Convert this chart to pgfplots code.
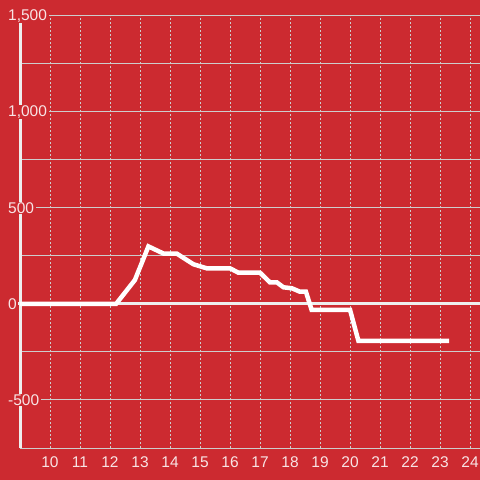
\documentclass[border=0pt]{standalone}
\usepackage{pgfplots}
\pgfplotsset{compat=1.18}
\usepackage{fontspec}
\setmainfont{Liberation Sans}
\definecolor{bgred}{RGB}{204,42,48}
\definecolor{gridc}{RGB}{205,205,205}
\definecolor{labc}{RGB}{248,228,229}
\definecolor{zeroc}{RGB}{238,238,238}
\begin{document}
\begin{tikzpicture}
\fill[bgred] (0,0) rectangle (480bp,480bp);
\begin{axis}[
  at={(20bp,32bp)}, anchor=south west,
  scale only axis, width=460bp, height=432bp,
  xmin=9, xmax=24.333, ymin=-750, ymax=1500,
  axis x line*=bottom, axis y line*=left,
  x axis line style={gridc, line width=1bp},
  y axis line style={zeroc, line width=3bp},
  xtick={10,...,24},
  ytick={-500,0,500,1000,1500},
  yticklabels={-500,0,500,{1,000},{1,500}},
  minor ytick={-250,250,750,1250},
  major tick length=0pt, minor tick length=0pt,
  xmajorgrids, ymajorgrids, yminorgrids,
  x grid style={gridc, line width=1bp, dash pattern=on 2bp off 2bp},
  y grid style={gridc, line width=1bp},
  minor y grid style={gridc, line width=1bp},
  tick label style={font=\fontsize{15.5bp}{15.5bp}\selectfont, text=labc},
  yticklabel style={anchor=west, xshift=-14bp, fill=bgred, inner xsep=2bp, inner ysep=1bp},
  xticklabel style={anchor=north, yshift=-5bp},
  /pgf/number format/assume math mode=true,
  clip=false,
]
\addplot[zeroc, line width=3bp] coordinates {(8.95,0) (24.333,0)};
\addplot[white, line width=4.5bp] coordinates {
(9.0,0) (12.2,0) (12.83,125) (13.28,300) (13.78,263) (14.22,263) (14.78,207)
(15.22,186) (16.0,186) (16.28,163) (17.0,163) (17.33,113) (17.56,113)
(17.78,87) (18.06,82) (18.33,64) (18.53,64) (18.72,-30) (20.0,-30)
(20.28,-192) (23.3,-192)};
\end{axis}
\pgfresetboundingbox
\useasboundingbox (0,0) rectangle (480bp,480bp);
\end{tikzpicture}
\end{document}
